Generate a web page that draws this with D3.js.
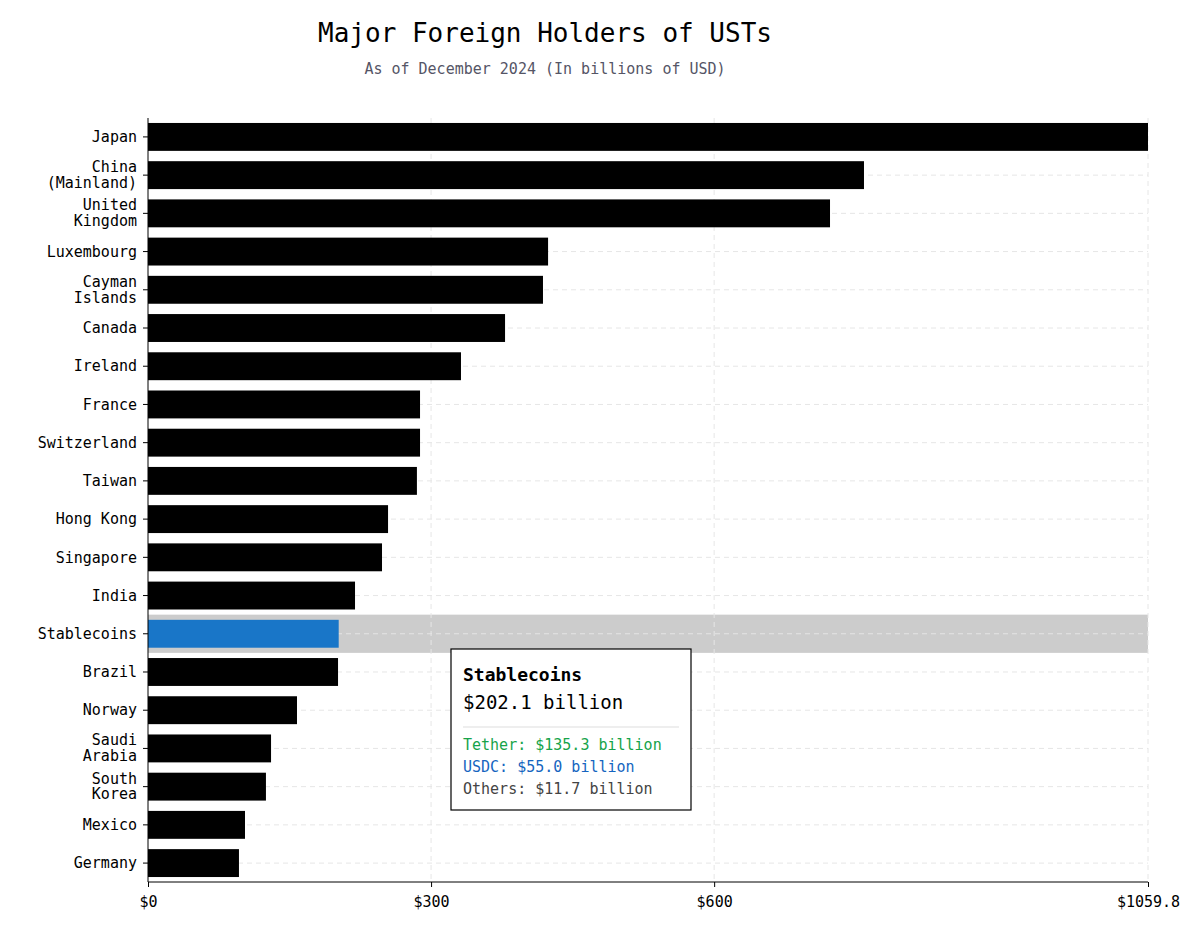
<!DOCTYPE html>
<html><head><meta charset="utf-8">
<script src="https://cdn.jsdelivr.net/npm/d3@7"></script>
<style>body{margin:0;background:#fff}</style>
</head><body>
<script>
const countries = ["Japan","China\n(Mainland)","United\nKingdom","Luxembourg","Cayman\nIslands","Canada","Ireland","France","Switzerland","Taiwan","Hong Kong","Singapore","India","Stablecoins","Brazil","Norway","Saudi\nArabia","South\nKorea","Mexico","Germany"];
const holdings = [1059.8,758.8,722.8,424.0,418.6,378.4,331.7,288.3,288.3,285.0,254.4,248.0,219.4,202.1,201.4,157.9,130.4,125.0,102.8,96.4];
const xTicks = [0,300,600,1059.8];
const tipLines = [["Tether: $135.3 billion","#16a34a"],["USDC: $55.0 billion","#1565c0"],["Others: $11.7 billion","#444"]];

const font = "'DejaVu Sans Mono', monospace";
const W = 1200, H = 928, m = {l:148, r:52, t:118, b:46};
const svg = d3.select("body").append("svg").attr("width",W).attr("height",H).style("font-family",font);

const x = d3.scaleLinear().domain([0,1059.8]).range([m.l, W-m.r]);
const y = d3.scaleBand().domain(countries).range([m.t, H-m.b]).paddingInner(0.27).paddingOuter(0.13);

svg.append("text").attr("x",545).attr("y",42).attr("text-anchor","middle").attr("font-size",26).text("Major Foreign Holders of USTs");
svg.append("text").attr("x",545).attr("y",74).attr("text-anchor","middle").attr("font-size",15).attr("fill","#556").text("As of December 2024 (In billions of USD)");

// highlight band
const sc = "Stablecoins";
svg.append("rect").attr("x",x(0)).attr("width",x(1059.8)-x(0))
  .attr("y",y(sc)-y.step()*y.paddingInner()/2).attr("height",y.step()).attr("fill","#cccccc");

// grid
const g = svg.append("g").attr("stroke","#e6e6e6").attr("stroke-dasharray","5,4");
g.selectAll("line.h").data(countries).join("line")
  .attr("x1",x(0)).attr("x2",x(1059.8)).attr("y1",d=>y(d)+y.bandwidth()/2).attr("y2",d=>y(d)+y.bandwidth()/2);
g.selectAll("line.v").data(xTicks.slice(1)).join("line")
  .attr("x1",d=>x(d)).attr("x2",d=>x(d)).attr("y1",m.t).attr("y2",H-m.b);

svg.selectAll("rect.bar").data(countries).join("rect").attr("class","bar")
  .attr("x",x(0)).attr("y",d=>y(d)).attr("height",y.bandwidth())
  .attr("width",(d,i)=>x(holdings[i])-x(0)).attr("fill",d=>d===sc?"#1976c8":"#000");

// axes
const ya = svg.append("g").attr("transform",`translate(${m.l},0)`)
  .call(d3.axisLeft(y).tickSize(5).tickFormat(""));
ya.select(".domain").attr("d",`M-0,${m.t}V${H-m.b}`);
ya.selectAll(".tick").each(function(d){
  const parts = d.split("\n");
  const t = d3.select(this).append("text").attr("x",-11).attr("fill","#000").attr("text-anchor","end")
    .attr("font-size",15).attr("font-family",font);
  parts.forEach((p,i)=>t.append("tspan").attr("x",-11).attr("dy", i===0 ? (parts.length===1?"0.35em":"-0.2em") : "1.05em").text(p));
});
const xa = svg.append("g").attr("transform",`translate(0,${H-m.b})`)
  .call(d3.axisBottom(x).tickValues(xTicks).tickSize(5).tickFormat(d=>"$"+d));
xa.select(".domain").attr("d",`M${m.l},0H${W-m.r}`);
xa.selectAll("text").attr("font-size",15).attr("font-family",font).attr("fill","#000").attr("dy","1.1em");

// tooltip
const tip = svg.append("g").attr("transform","translate(451,649)");
tip.append("rect").attr("width",240).attr("height",161).attr("fill","#fff").attr("stroke","#000").attr("stroke-width",1.2);
tip.append("text").attr("x",12).attr("y",32).attr("font-size",18).attr("font-weight","bold").text("Stablecoins");
tip.append("text").attr("x",12).attr("y",60).attr("font-size",19).text("$202.1 billion");
tip.append("line").attr("x1",12).attr("x2",228).attr("y1",78).attr("y2",78).attr("stroke","#ddd");
tip.selectAll("text.l").data(tipLines).join("text").attr("class","l")
  .attr("x",12).attr("y",(d,i)=>101+i*22).attr("font-size",15).attr("fill",d=>d[1]).text(d=>d[0]);
</script>
</body></html>
